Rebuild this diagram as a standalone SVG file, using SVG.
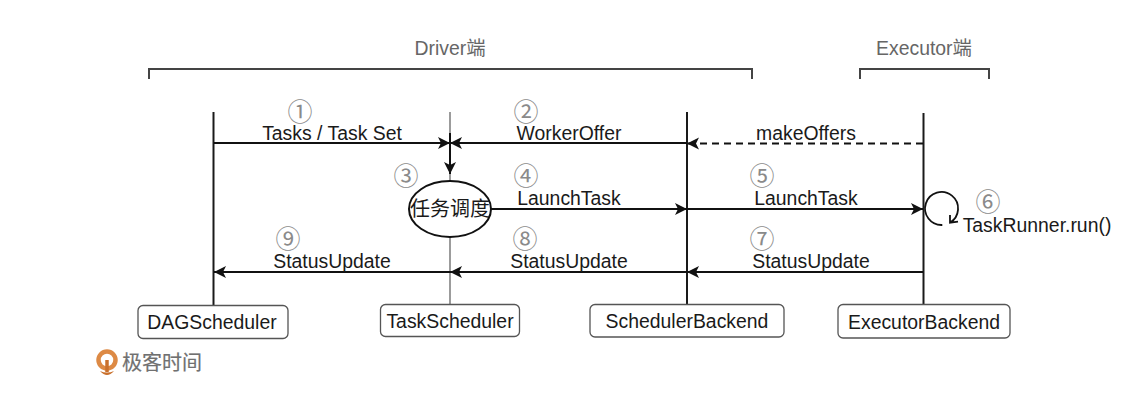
<svg xmlns="http://www.w3.org/2000/svg" width="1148" height="400" viewBox="0 0 1148 400">
<style>
text{font-family:"Liberation Sans","Noto Sans CJK SC",sans-serif;font-size:19.400px;fill:#1a1a1a;text-anchor:middle}
.h{fill:#666}
.n{font-family:"Noto Sans CJK SC",sans-serif;font-size:25px;fill:#8a8a8a}
.l{fill:none;stroke:#1a1a1a;stroke-width:2}
.b{fill:none;stroke:#444;stroke-width:2}
.a{fill:none;stroke:#111;stroke-width:2;marker-end:url(#arr)}
.box{fill:#fff;stroke:#555;stroke-width:1.300}
</style>
<defs>
<marker id="arr" markerUnits="userSpaceOnUse" markerWidth="14" markerHeight="14" refX="12" refY="7" orient="auto">
<path d="M0 1L12 7L0 13L3 7Z" fill="#111"/>
</marker>
</defs>
<rect width="1148" height="400" fill="#fff"/>
<g id="brackets">
<path class="b" d="M149 79V69H752V79"/>
<path class="b" d="M860 79V69H989V79"/>
<text class="h" x="450" y="55">Driver端</text>
<text class="h" x="924" y="55">Executor端</text>
</g>
<g id="connectors">
<path class="l" d="M213.500 112V306"/>
<path d="M450 112V305" fill="none" stroke="#666" stroke-width="1.300"/>
<path class="l" d="M687 112V305"/>
<path class="l" d="M923.500 113V305"/>
<path class="a" d="M214 143H450"/>
<path class="a" d="M687 143H450"/>
<path class="a" d="M923 143.500H687" stroke-dasharray="7 5"/>
<path class="a" d="M450 133V174"/>
<path class="a" d="M491 209H687"/>
<path class="a" d="M687 209H923"/>
<path class="a" d="M923 272H687"/>
<path class="a" d="M687 272H450"/>
<path class="a" d="M450 272H214"/>
<path d="M942.300 225A16.500 16.500 0 1 1 950 222.700M950 215V222.700L958 221.700" fill="none" stroke="#111" stroke-width="1.800"/>
</g>
<g id="labels">
<text class="n" x="300" y="121">①</text>
<text x="332" y="140">Tasks / Task Set</text>
<text class="n" x="526" y="121">②</text>
<text x="569" y="140">WorkerOffer</text>
<text x="806" y="140">makeOffers</text>
<text class="n" x="406" y="185">③</text>
<text class="n" x="526" y="185">④</text>
<text x="569" y="205">LaunchTask</text>
<text class="n" x="762" y="185">⑤</text>
<text x="806" y="205">LaunchTask</text>
<text class="n" x="988" y="211">⑥</text>
<text x="1037" y="232">TaskRunner.run()</text>
<text class="n" x="288" y="248">⑨</text>
<text x="332" y="268">StatusUpdate</text>
<text class="n" x="525" y="248">⑧</text>
<text x="569" y="268">StatusUpdate</text>
<text class="n" x="762" y="248">⑦</text>
<text x="811" y="268">StatusUpdate</text>
</g>
<g id="task-dispatch">
<ellipse cx="450" cy="209" rx="41" ry="28" fill="#fff" stroke="#111" stroke-width="2"/>
<text x="450" y="216" style="font-size:20px">任务调度</text>
</g>
<g id="dagscheduler">
<rect class="box" x="138" y="305.500" width="150" height="33" rx="5"/>
<text x="212" y="329">DAGScheduler</text>
</g>
<g id="taskscheduler">
<rect class="box" x="380.500" y="304.500" width="139" height="32" rx="5"/>
<text x="450" y="328">TaskScheduler</text>
</g>
<g id="schedulerbackend">
<rect class="box" x="590" y="304.500" width="194" height="32.500" rx="5"/>
<text x="687" y="328">SchedulerBackend</text>
</g>
<g id="executorbackend">
<rect class="box" x="838" y="304.500" width="172" height="33.500" rx="5"/>
<text x="924" y="329">ExecutorBackend</text>
</g>
<g id="logo">
<circle cx="107" cy="360" r="8.500" fill="none" stroke="#dd8a45" stroke-width="4.500"/>
<path d="M107 360V372" stroke="#c9702c" stroke-width="3.500" fill="none"/>
<path d="M100 371Q107 379 114 371Q107 374 100 371Z" fill="#c9702c"/>
<text x="162" y="370" style="font-size:20px;fill:#707070;stroke:#707070;stroke-width:.2">极客时间</text>
</g>
</svg>
